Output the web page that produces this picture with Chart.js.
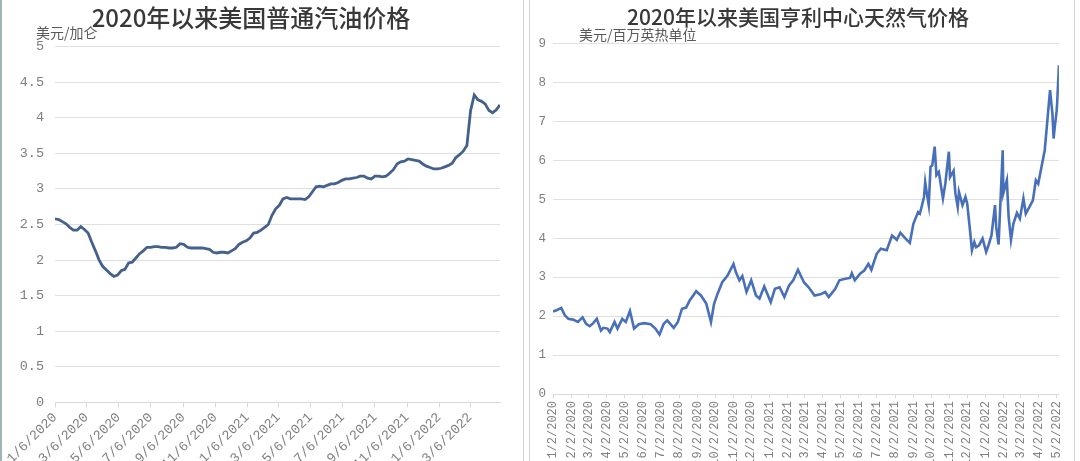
<!DOCTYPE html>
<html><head><meta charset="utf-8">
<script src="https://cdn.jsdelivr.net/npm/chart.js@4.4.0/dist/chart.umd.min.js"></script>
<style>
html,body{margin:0;padding:0;background:#fff;width:1080px;height:461px;overflow:hidden;position:relative;}
.panel{position:absolute;top:0;height:461px;}
#p1{left:2px;width:521px;}
#p2{left:530px;width:544px;}
.vline{position:absolute;top:0;height:461px;}
</style></head><body>
<div class="vline" style="left:0;width:2px;background:#a3b4b8"></div>
<div class="vline" style="left:523px;width:1px;background:#d2d2d2"></div>
<div class="vline" style="left:529px;width:1px;background:#d2d2d2"></div>
<div class="vline" style="left:1074px;width:1px;background:#d2d2d2"></div>
<div class="panel" id="p1"><canvas id="c1"></canvas></div>
<div class="panel" id="p2"><canvas id="c2"></canvas></div>
<script>
// ---------- Left chart: US regular gasoline, weekly (Mondays) ----------
const gasolineTitle = '2020年以来美国普通汽油价格';
const gasolineUnit = '美元/加仑';
const gasolineStart = '2020-01-06';
const gasolinePrices = [
  2.58, 2.57, 2.54, 2.51,
  2.46, 2.42, 2.42, 2.47,
  2.43, 2.38, 2.25, 2.13, 2.00,
  1.91, 1.86, 1.81, 1.77,
  1.79, 1.85, 1.87, 1.96,
  1.97, 2.03, 2.09, 2.13, 2.18,
  2.18, 2.19, 2.19, 2.18,
  2.18, 2.17, 2.17, 2.18, 2.23,
  2.22, 2.18, 2.17, 2.17,
  2.17, 2.17, 2.16, 2.15,
  2.11, 2.10, 2.11, 2.11, 2.10,
  2.13, 2.16, 2.22, 2.25,
  2.27, 2.31, 2.38, 2.39,
  2.42, 2.46, 2.50, 2.63,
  2.72, 2.77, 2.86, 2.88, 2.86,
  2.86, 2.86, 2.86, 2.85,
  2.89, 2.96, 3.03, 3.04, 3.03,
  3.05, 3.07, 3.07, 3.09,
  3.12, 3.14, 3.14, 3.15,
  3.16, 3.18, 3.18, 3.15, 3.14,
  3.18, 3.18, 3.17, 3.18,
  3.22, 3.27, 3.35, 3.38,
  3.39, 3.42, 3.41, 3.40, 3.39,
  3.35, 3.32, 3.30, 3.28,
  3.28, 3.29, 3.31, 3.33, 3.36,
  3.44, 3.48, 3.53, 3.61,
  4.10, 4.32, 4.25, 4.23,
  4.19, 4.10, 4.07, 4.11,
  4.18
];
const gasolineTickLabels = ['1/6/2020','3/6/2020','5/6/2020','7/6/2020','9/6/2020','11/6/2020',
  '1/6/2021','3/6/2021','5/6/2021','7/6/2021','9/6/2021','11/6/2021','1/6/2022','3/6/2022'];
const gasolineYTicks = [0, 0.5, 1, 1.5, 2, 2.5, 3, 3.5, 4, 4.5, 5];

// ---------- Right chart: Henry Hub natural gas spot ----------
const ngTitle = '2020年以来美国亨利中心天然气价格';
const ngUnit = '美元/百万英热单位';
const ngDates = [
 '2020-01-02','2020-01-08','2020-01-16','2020-01-22','2020-01-28','2020-02-05','2020-02-13','2020-02-21','2020-02-27',
 '2020-03-04','2020-03-10','2020-03-16','2020-03-23','2020-03-27','2020-04-03','2020-04-07','2020-04-15','2020-04-20',
 '2020-04-28','2020-05-04','2020-05-11','2020-05-18','2020-05-26','2020-06-04','2020-06-15','2020-06-23','2020-06-30',
 '2020-07-07','2020-07-13','2020-07-24','2020-07-31','2020-08-07','2020-08-14','2020-08-20','2020-08-31','2020-09-08',
 '2020-09-17','2020-09-25','2020-09-30','2020-10-06','2020-10-14','2020-10-23','2020-11-02','2020-11-06','2020-11-12',
 '2020-11-17','2020-11-24','2020-12-02','2020-12-10','2020-12-16','2020-12-24','2021-01-04','2021-01-11','2021-01-19',
 '2021-01-27','2021-02-04','2021-02-11','2021-02-19','2021-03-01','2021-03-09','2021-03-19','2021-03-29','2021-04-06',
 '2021-04-12','2021-04-23','2021-04-30','2021-05-10','2021-05-18','2021-05-21','2021-05-26','2021-06-04','2021-06-11',
 '2021-06-18','2021-06-23','2021-07-02','2021-07-09','2021-07-19','2021-07-28','2021-08-05','2021-08-11','2021-08-19',
 '2021-08-27','2021-09-02','2021-09-10','2021-09-13','2021-09-20','2021-09-22','2021-09-24','2021-09-28','2021-10-01',
 '2021-10-04','2021-10-08','2021-10-11','2021-10-15','2021-10-22','2021-10-26','2021-11-01','2021-11-03','2021-11-09',
 '2021-11-12','2021-11-16','2021-11-18','2021-11-24','2021-11-29','2021-12-02','2021-12-07','2021-12-10','2021-12-14',
 '2021-12-17','2021-12-22','2021-12-28','2022-01-03','2022-01-07','2022-01-12','2022-01-18','2022-01-20','2022-01-24',
 '2022-01-31','2022-02-01','2022-02-07','2022-02-10','2022-02-14','2022-02-18','2022-02-24','2022-03-01','2022-03-07',
 '2022-03-11','2022-03-17','2022-03-23','2022-03-28','2022-04-01','2022-04-06','2022-04-12','2022-04-15','2022-04-21',
 '2022-04-25','2022-04-27','2022-04-29','2022-05-02','2022-05-03','2022-05-06'
];
const ngPrices = [
 2.12,2.15,2.21,2.02,1.93,1.91,1.85,1.97,1.80,
 1.74,1.82,1.93,1.63,1.70,1.68,1.59,1.85,1.68,
 1.93,1.85,2.13,1.68,1.79,1.82,1.79,1.68,1.53,
 1.80,1.89,1.70,1.85,2.19,2.22,2.40,2.64,2.53,
 2.32,1.85,2.30,2.57,2.87,3.04,3.34,3.13,2.92,
 3.03,2.62,2.92,2.53,2.45,2.76,2.36,2.70,2.74,
 2.49,2.79,2.92,3.19,2.87,2.74,2.53,2.56,2.62,
 2.49,2.70,2.92,2.96,2.98,3.10,2.92,3.09,3.17,
 3.34,3.19,3.60,3.73,3.69,4.07,3.96,4.14,4.00,
 3.88,4.37,4.67,4.63,5.06,5.44,5.23,4.85,5.83,
 5.87,6.35,5.62,5.70,5.02,5.40,6.22,5.57,5.73,
 5.15,4.80,5.19,4.85,5.06,4.89,4.16,3.69,3.90,
 3.77,3.82,3.99,3.65,3.82,4.07,4.85,4.29,3.84,
 6.26,5.15,5.49,4.55,3.96,4.37,4.65,4.50,5.02,
 4.63,4.80,4.97,5.49,5.40,5.79,6.26,6.77,7.80,
 7.20,6.56,6.86,7.25,7.46,8.44
];
const ngTickLabels = ['1/2/2020','2/2/2020','3/2/2020','4/2/2020','5/2/2020','6/2/2020','7/2/2020','8/2/2020',
  '9/2/2020','10/2/2020','11/2/2020','12/2/2020','1/2/2021','2/2/2021','3/2/2021','4/2/2021','5/2/2021',
  '6/2/2021','7/2/2021','8/2/2021','9/2/2021','10/2/2021','11/2/2021','12/2/2021','1/2/2022','2/2/2022',
  '3/2/2022','4/2/2022','5/2/2022'];
const ngYTicks = [0,1,2,3,4,5,6,7,8,9];

// ---------- helpers ----------
const DAY = 86400000;
function isoToMs(s){ const [y,m,d] = s.split('-').map(Number); return Date.UTC(y, m-1, d); }
function mdyToMs(s){ const [m,d,y] = s.split('/').map(Number); return Date.UTC(y, m-1, d); }
function daysFrom(baseMs, ms){ return Math.round((ms - baseMs)/DAY); }

Chart.defaults.animation = false;
Chart.defaults.devicePixelRatio = 1;

const unitLabelPlugin = {
  id: 'unitLabel',
  afterDraw(chart, args, opts) {
    const ctx = chart.ctx;
    ctx.save();
    ctx.font = opts.font;
    ctx.fillStyle = opts.color;
    ctx.textBaseline = 'middle';
    ctx.textAlign = 'left';
    ctx.fillText(opts.text, chart.chartArea.left + opts.dx, opts.y);
    ctx.restore();
  }
};

const TICK_COLOR = '#7f7f7f';
const GRID_COLOR = '#e0e0e0';
const MONO = "'Liberation Mono', 'DejaVu Sans Mono', monospace";
const CJK = "'Noto Sans CJK SC', 'Noto Sans', sans-serif";

// ---------- Left chart ----------
(function(){
  const base = isoToMs(gasolineStart);
  const pts = gasolinePrices.map((v,i) => ({x: i*7, y: v}));
  const lastX = pts[pts.length-1].x;
  const tickVals = gasolineTickLabels.map(l => daysFrom(base, mdyToMs(l)));
  new Chart(document.getElementById('c1'), {
    type: 'line',
    data: { datasets: [{ data: pts, borderColor: '#44618c', borderWidth: 2.8, pointRadius: 0, tension: 0, fill: false }] },
    options: {
      responsive: true, maintainAspectRatio: false,
      layout: { padding: { left: 0, right: 23, top: 0, bottom: 0 } },
      plugins: {
        legend: { display: false }, tooltip: { enabled: false },
        title: { display: true, text: gasolineTitle, color: '#383838',
          font: { family: CJK, size: 24, weight: '500', lineHeight: 1.2 },
          padding: { top: 3, bottom: 14.7 } },
        unitLabel: { text: gasolineUnit, font: "14px " + CJK, color: '#595959', dx: -19, y: 33 }
      },
      scales: {
        x: {
          type: 'linear', min: 0, max: lastX,
          afterBuildTicks: s => { s.ticks = tickVals.map(v => ({ value: v })); },
          afterFit: s => { s.height = 58.5; },
          ticks: { autoSkip: false, minRotation: 45, maxRotation: 45, padding: 2, color: TICK_COLOR,
            font: { family: MONO, size: 13.5 }, callback: (v, i) => gasolineTickLabels[i] },
          grid: { display: true, drawOnChartArea: false, drawTicks: true, tickLength: 5, color: '#d9d9d9' },
          border: { display: true, color: '#d9d9d9' }
        },
        y: {
          min: 0, max: 5,
          afterBuildTicks: s => { s.ticks = gasolineYTicks.map(v => ({ value: v })); },
          afterFit: s => { s.width = 53; },
          ticks: { color: TICK_COLOR, font: { family: MONO, size: 13.5 }, padding: 11, callback: v => String(v) },
          grid: { color: GRID_COLOR, drawTicks: false },
          border: { display: false }
        }
      }
    },
    plugins: [unitLabelPlugin]
  });
})();

// ---------- Right chart ----------
(function(){
  const base = isoToMs(ngDates[0]);
  const pts = ngDates.map((d,i) => ({ x: daysFrom(base, isoToMs(d)), y: ngPrices[i] }));
  const lastX = pts[pts.length-1].x;
  const tickVals = ngTickLabels.map(l => daysFrom(base, mdyToMs(l)));
  new Chart(document.getElementById('c2'), {
    type: 'line',
    data: { datasets: [{ data: pts, borderColor: '#4770b8', borderWidth: 2.6, pointRadius: 0, tension: 0, fill: false }] },
    options: {
      responsive: true, maintainAspectRatio: false,
      layout: { padding: { left: 0, right: 8, top: 0, bottom: 0 } },
      plugins: {
        legend: { display: false }, tooltip: { enabled: false },
        title: { display: true, text: ngTitle, color: '#383838',
          font: { family: CJK, size: 21, weight: '500', lineHeight: 1.2 },
          padding: { top: 4.9, bottom: 13.4 } },
        unitLabel: { text: ngUnit, font: "14px " + CJK, color: '#595959', dx: 26, y: 35 }
      },
      scales: {
        x: {
          type: 'linear', min: 0, max: lastX,
          afterBuildTicks: s => { s.ticks = tickVals.map(v => ({ value: v })); },
          afterFit: s => { s.height = 67; },
          ticks: { autoSkip: false, minRotation: 90, maxRotation: 90, padding: 3, color: TICK_COLOR,
            font: { family: MONO, size: 12 }, callback: (v, i) => ngTickLabels[i] },
          grid: { display: true, drawOnChartArea: false, drawTicks: true, tickLength: 4, color: '#d9d9d9' },
          border: { display: true, color: '#d9d9d9' }
        },
        y: {
          min: 0, max: 9,
          afterBuildTicks: s => { s.ticks = ngYTicks.map(v => ({ value: v })); },
          afterFit: s => { s.width = 23; },
          ticks: { color: TICK_COLOR, font: { family: MONO, size: 12.5 }, padding: 7, callback: v => String(v) },
          grid: { color: GRID_COLOR, drawTicks: false },
          border: { display: false }
        }
      }
    },
    plugins: [unitLabelPlugin]
  });
})();
</script>
</body></html>
